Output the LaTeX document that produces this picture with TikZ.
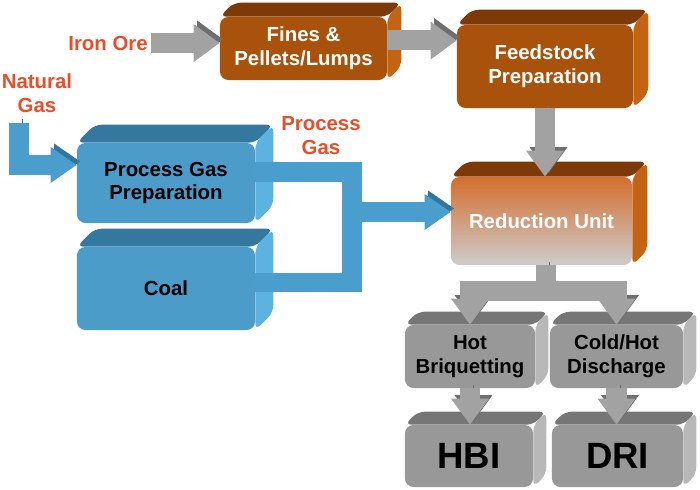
\documentclass[tikz,border=0pt]{standalone}
\usepackage{fontspec}
\setmainfont{Liberation Sans}
\usetikzlibrary{arrows.meta, calc, backgrounds}
\definecolor{oretop}{RGB}{125,58,8}
\definecolor{orefront}{RGB}{168,82,12}
\definecolor{oreside}{RGB}{196,100,18}
\definecolor{blutop}{RGB}{52,120,160}
\definecolor{blufront}{RGB}{76,156,201}
\definecolor{bluside}{RGB}{92,178,224}
\definecolor{grytop}{RGB}{118,118,118}
\definecolor{gryfront}{RGB}{152,152,152}
\definecolor{gryside}{RGB}{184,184,184}
\definecolor{redtop}{RGB}{212,110,45}
\definecolor{redmid}{RGB}{214,158,132}
\definecolor{redbot}{RGB}{204,204,204}
\definecolor{labred}{RGB}{232,78,40}
\definecolor{garrow}{RGB}{162,162,162}
\definecolor{garrowdk}{RGB}{110,110,110}
\definecolor{barrow}{RGB}{74,158,205}
\definecolor{barrowdk}{RGB}{50,118,155}

\begin{document}
\begin{tikzpicture}[
    x=0.025cm, y=-0.025cm,
    blk/.style={rounded corners=6pt,inner sep=0pt,align=center,
                font={\fontsize{14.5}{17}\selectfont\bfseries}},
    orgbox/.style={blk,fill=orefront,text=white},
    blubox/.style={blk,fill=blufront},
    grybox/.style={blk,fill=gryfront},
    big/.style={font={\fontsize{26}{30}\selectfont\bfseries}},
    lbl/.style={align=center,text=labred,inner sep=2pt,
                font={\fontsize{14.5}{17}\selectfont\bfseries}},
    garr/.style={draw=garrow,line width=0.5cm,line join=miter,
                 -{Triangle[length=0.65cm,width=0.9cm]},
                 preaction={draw=garrowdk,transform canvas={xshift=2.5pt,yshift=2.5pt}}},
    gline/.style={draw=garrow,line width=0.5cm,line join=miter,
                  preaction={draw=garrowdk,transform canvas={xshift=2.5pt,yshift=2.5pt}}},
    barr/.style={draw=barrow,line width=0.48cm,line join=miter,
                 -{Triangle[length=0.65cm,width=0.85cm]},
                 preaction={draw=barrowdk,transform canvas={xshift=2.5pt,yshift=2.5pt}}},
    bline/.style={draw=barrow,line width=0.48cm,line join=miter,
                  preaction={draw=barrowdk,transform canvas={xshift=2.5pt,yshift=2.5pt}}}
]
  \useasboundingbox (0,0) rectangle (700,490);

  % Feed side
  \node[orgbox,minimum width=4.175cm,minimum height=1.575cm] (fines) at (303.5,48.5) {Fines \&\\Pellets/Lumps};
  \node[orgbox,minimum width=4.4cm,minimum height=2.075cm] (feed) at (545,66.5) {Feedstock\\Preparation};

  % Gas side
  \node[blubox,minimum width=4.45cm,minimum height=2cm] (pgp) at (166,183) {Process Gas\\Preparation};
  \node[blubox,minimum width=4.45cm,minimum height=2.075cm] (coal) at (166,288.5) {Coal};

  % Reactor and products
  \node[blk,top color=redtop,middle color=redmid,bottom color=redbot,text=white,
        minimum width=4.525cm,minimum height=2.2cm] (red) at (541.5,221) {Reduction Unit};
  \node[grybox,minimum width=3.25cm,minimum height=1.575cm] (hot) at (470,356.5) {Hot\\Briquetting};
  \node[grybox,minimum width=3.325cm,minimum height=1.575cm] (cold) at (616.5,356.5) {Cold/Hot\\Discharge};
  \node[grybox,big,minimum width=3.2cm,minimum height=1.55cm] (hbi) at (469,456) {HBI};
  \node[grybox,big,minimum width=3.275cm,minimum height=1.55cm] (dri) at (617.5,456) {DRI};

  % 3D depth of the boxes
  \begin{scope}[on background layer]
    \foreach \n/\col/\dep in {fines/ore/14, feed/ore/15, pgp/blu/18, coal/blu/18, red/ore/15,
                              hot/gry/13, cold/gry/13, hbi/gry/13, dri/gry/13} {
      \fill[fill=\col top,rounded corners=5pt] (\n.north west) -- ++(\dep,-\dep)
        -- ($(\n.north east)+(\dep,-\dep)$) -- (\n.north east) -- cycle;
      \fill[fill=\col side,rounded corners=5pt] (\n.north east) -- ++(\dep,-\dep)
        -- ($(\n.south east)+(\dep,-\dep)$) -- (\n.south east) -- cycle;
    }
  \end{scope}

  % Labels
  \node[lbl] (ore) at (108,43) {Iron Ore};
  \node[lbl] (ng) at (37,93) {Natural\\Gas};
  \node[lbl] (pg) at (321,136) {Process\\Gas};

  \coordinate (ngin) at (19,123);
  \coordinate (pgjoin) at (352,212);
  \coordinate (split) at (546,291);

  % Arrows
  \draw[garr] (ore.east) -- (ore.east -| fines.west);
  \draw[garr] ($(fines.east)+(0,-8)$) -- ($(fines.east -| feed.west)+(0,-8)$);
  \draw[garr] (feed.south) -- (feed.south |- red.north);

  \draw[barr] (ngin) |- ($(pgp.west)+(0,-18)$);
  \draw[bline] ($(pgp.east)+(0,-11)$) -| (pgjoin);
  \draw[bline] ($(coal.east)+(0,-6)$) -| (pgjoin);
  \draw[barr] (pgjoin) -- (pgjoin -| red.west);

  \draw[gline] (split |- red.south) -- ($(split)+(0,10)$);
  \draw[garr] (split) -| (hot.north);
  \draw[garr] (split) -| (cold.north);
  \draw[garr] (hot.south) -- (hot.south |- hbi.north);
  \draw[garr] (cold.south) -- (cold.south |- dri.north);

\end{tikzpicture}
\end{document}
